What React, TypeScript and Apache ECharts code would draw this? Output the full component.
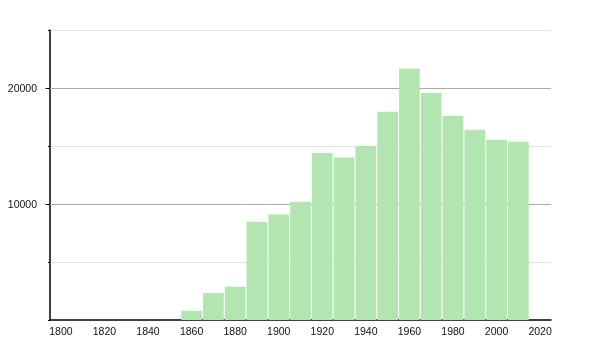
import React, { useEffect, useRef } from "react";
import * as echarts from "echarts";

const years = [1860, 1870, 1880, 1890, 1900, 1910, 1920, 1930, 1940, 1950, 1960, 1970, 1980, 1990, 2000, 2010];
const population = [800, 2320, 2870, 8470, 9100, 10200, 14400, 14000, 15000, 17950, 21650, 19570, 17610, 16400, 15540, 15370];
const xLabels = [1800, 1820, 1840, 1860, 1880, 1900, 1920, 1940, 1960, 1980, 2000, 2020];
const yLabels = [10000, 20000];

export default function App() {
  const ref = useRef<HTMLDivElement>(null);
  useEffect(() => {
    if (!ref.current) return;
    const chart = echarts.init(ref.current, null, { renderer: "svg" });
    const font = { fontFamily: "Liberation Sans, Arial, sans-serif", fontSize: 10.5, color: "#111" };
    const plain = (v: number) => String(v);
    chart.setOption({
      animation: false,
      grid: { left: 50, right: 49, top: 30, bottom: 30, containLabel: false },
      xAxis: {
        type: "value",
        min: 1795,
        max: 2025,
        axisLine: { show: true, lineStyle: { color: "#000", width: 1.5 } },
        axisTick: { show: false },
        splitLine: { show: false },
        axisLabel: { ...font, margin: 5, customValues: xLabels, formatter: plain },
      },
      yAxis: [
        {
          type: "value",
          min: 0,
          max: 25000,
          interval: 5000,
          position: "left",
          axisLine: { show: true, lineStyle: { color: "#000", width: 1.5 } },
          axisTick: { show: true, length: 2, lineStyle: { color: "#000" } },
          axisLabel: { show: false },
          splitLine: { show: true, showMinLine: false, lineStyle: { color: "#e4e4e4", width: 1 } },
        },
        {
          type: "value",
          min: 0,
          max: 25000,
          position: "left",
          offset: 0,
          axisLine: { show: false },
          axisTick: { show: true, length: 4.5, customValues: yLabels, lineStyle: { color: "#000" } },
          axisLabel: { ...font, margin: 13, customValues: yLabels, formatter: plain },
          splitLine: { show: false },
        },
      ],
      series: [
        {
          type: "bar",
          yAxisIndex: 0,
          barWidth: 20.7,
          itemStyle: { color: "#b3e5b0" },
          data: years.map((y, i) => [y, population[i]]),
          markLine: {
            silent: true,
            symbol: "none",
            z: 1,
            label: { show: false },
            lineStyle: { color: "#aaaaaa", type: "solid", width: 1 },
            data: yLabels.map((v) => ({ yAxis: v })),
          },
          z: 3,
        },
      ],
    });
    return () => chart.dispose();
  }, []);
  return <div ref={ref} style={{ position: "fixed", left: 0, top: 0, width: 600, height: 350 }} />;
}
